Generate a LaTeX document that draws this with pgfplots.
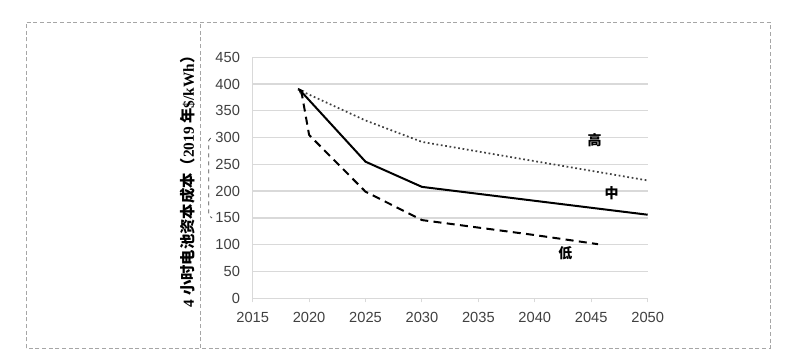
\documentclass[border=0pt]{standalone}
\usepackage{pgfplots}
\pgfplotsset{compat=1.18}
\usepackage{fontspec}
\setmainfont{Liberation Sans}
\newfontfamily\cjk{Noto Sans CJK SC}
\newfontfamily\tnr{Liberation Serif}
\usetikzlibrary{arrows.meta}
\definecolor{gridc}{HTML}{D9D9D9}
\definecolor{tickc}{HTML}{404040}
\definecolor{boxc}{HTML}{A6A6A6}
\begin{document}
\begin{tikzpicture}
\path (0,0) rectangle (600pt,271.5pt);
% frame
\draw[boxc, densely dashed, line width=0.5pt] (19.5pt,10.5pt) rectangle (577.5pt,255pt);
\draw[boxc, densely dashed, line width=0.5pt] (150pt,10.5pt) -- (150pt,255pt);
\draw[black!70, dashed, line width=0.6pt] (158pt,168pt) -- (156.5pt,166pt) -- (156.5pt,110pt) -- (159pt,108pt);
% y label
\node[rotate=90, inner sep=0pt, font=\fontsize{11.5}{13}\selectfont] at (141pt,138pt)
 {{\tnr\bfseries 4 }{\cjk\bfseries 小时电池资本成本（}{\tnr\bfseries 2019 }{\cjk\bfseries 年}{\tnr\bfseries \$/kWh}{\cjk\bfseries ）}};
\begin{axis}[
  at={(189.5pt,47.8pt)}, anchor=south west,
  scale only axis, width=296.25pt, height=180.75pt,
  xmin=2015, xmax=2050, ymin=0, ymax=450,
  xtick={2015,2020,...,2050}, ytick={0,50,...,450},
  axis x line*=bottom, axis y line*=left,
  axis line style={gridc, line width=1pt, -},
  ymajorgrids, grid style={gridc, line width=1pt},
  ytick style={draw=none},
  xtick style={gridc, line width=0.8pt},
  tick align=outside, major tick length=3pt,
  /pgf/number format/assume math mode=true,
  /pgf/number format/1000 sep={},
  tick label style={font=\fontsize{11}{13}\selectfont, text=tickc},
  yticklabel style={xshift=-3pt},
  xticklabel style={yshift=-4pt},
  clip=false,
]
\addplot[black!75, line width=1.3pt, dotted] coordinates {(2019,390) (2025,332) (2030,292) (2040,256) (2050,220)};
\addplot[black, line width=1.5pt, {Stealth[length=5pt,width=4pt]}-] coordinates {(2019,393) (2025,255) (2030,208) (2040,182) (2050,156)};
\addplot[black, line width=1.5pt, dash pattern=on 6pt off 4pt] coordinates {(2019.3,388) (2020,305) (2025,199) (2030,146) (2040,118) (2045.6,101)};
\node[font=\cjk\bfseries\fontsize{10.5}{12}\selectfont] at (axis cs:2045.3,295) {高};
\node[font=\cjk\bfseries\fontsize{10.5}{12}\selectfont] at (axis cs:2046.8,196) {中};
\node[font=\cjk\bfseries\fontsize{10.5}{12}\selectfont] at (axis cs:2042.7,84) {低};
\end{axis}
\end{tikzpicture}
\end{document}
